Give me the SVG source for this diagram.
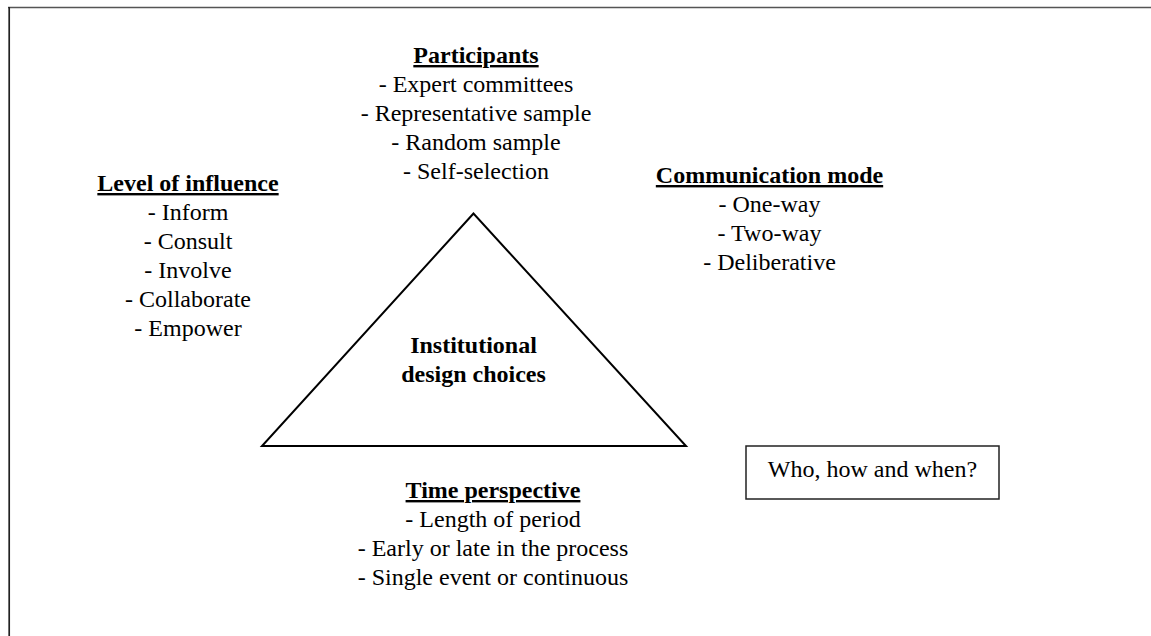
<svg xmlns="http://www.w3.org/2000/svg" width="1151" height="636" viewBox="0 0 1151 636">
<style>
  text { font-family: "Liberation Serif", "Times New Roman", serif; font-size: 24px; fill: #000; text-anchor: middle; }
  .h { font-weight: bold; text-decoration: underline; }
  .b { font-weight: bold; }
  .shape { fill: #fff; stroke: #000; stroke-width: 2; }
</style>
<rect x="0" y="0" width="1151" height="636" fill="#fff"/>
<g id="frame">
  <line x1="8" y1="7.5" x2="1151" y2="7.5" stroke="#555" stroke-width="1.7"/>
  <line x1="9.2" y1="7" x2="9.2" y2="636" stroke="#222" stroke-width="1.7"/>
</g>
<g id="connectors"></g>
<g id="triangle">
  <polygon class="shape" points="473.5,213.5 262,446 686,446"/>
  <text class="b" x="473.5" y="353">Institutional</text>
  <text class="b" x="473.5" y="382">design choices</text>
</g>
<g id="participants">
  <text class="h" x="476" y="63">Participants</text>
  <text x="476" y="92">- Expert committees</text>
  <text x="476" y="121">- Representative sample</text>
  <text x="476" y="150">- Random sample</text>
  <text x="476" y="179">- Self-selection</text>
</g>
<g id="level-of-influence">
  <text class="h" x="188" y="191">Level of influence</text>
  <text x="188" y="220">- Inform</text>
  <text x="188" y="249">- Consult</text>
  <text x="188" y="278">- Involve</text>
  <text x="188" y="307">- Collaborate</text>
  <text x="188" y="336">- Empower</text>
</g>
<g id="communication-mode">
  <text class="h" x="769.5" y="183">Communication mode</text>
  <text x="769.5" y="212">- One-way</text>
  <text x="769.5" y="241">- Two-way</text>
  <text x="769.5" y="270">- Deliberative</text>
</g>
<g id="time-perspective">
  <text class="h" x="493" y="498">Time perspective</text>
  <text x="493" y="527">- Length of period</text>
  <text x="493" y="556">- Early or late in the process</text>
  <text x="493" y="585">- Single event or continuous</text>
</g>
<g id="who-box">
  <rect x="746" y="446" width="253" height="53" fill="#fff" stroke="#222" stroke-width="1.5"/>
  <text x="872.5" y="477">Who, how and when?</text>
</g>
</svg>
